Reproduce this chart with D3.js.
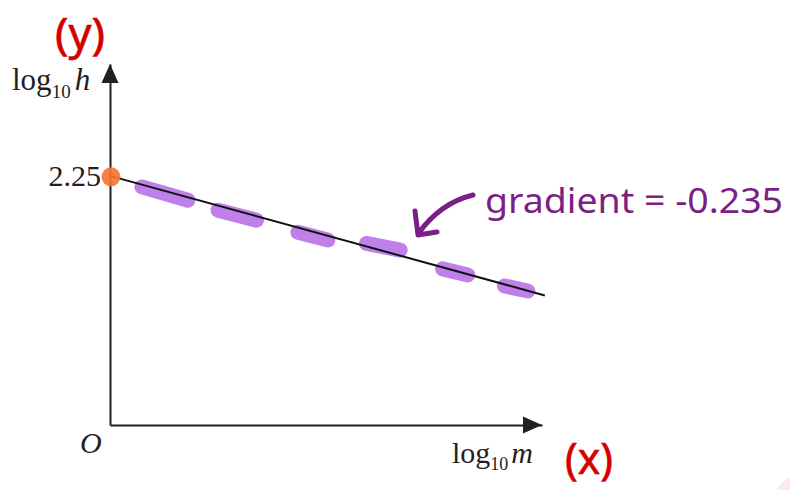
<!DOCTYPE html>
<html>
<head>
<meta charset="utf-8">
<script src="https://cdn.jsdelivr.net/npm/d3@7"></script>
<style>
  body { margin: 0; background: #fff; }
  .serif { font-family: "Liberation Serif", "DejaVu Serif", serif; fill: #231f20; }
  .hand { font-family: "Noto Sans", "Open Sans", sans-serif; }
</style>
</head>
<body>
<div id="chart"></div>
<script>
// values
var yTicks = [2.25];
var fitLine = [[0, 2.25], [4.63, 1.17]];
var gradientLabel = 'gradient = -0.235';
// purple highlighter dashes, each [x0, y0, x1, y1]
var dashes = [
    [0.34, 2.15, 0.83, 2.03],
    [1.15, 1.94, 1.56, 1.85],
    [2.00, 1.74, 2.32, 1.67],
    [2.73, 1.64, 3.09, 1.58],
    [3.54, 1.41, 3.81, 1.355],
    [4.20, 1.255, 4.45, 1.21]
];

var width = 790, height = 490;
var svg = d3.select('#chart').append('svg')
    .attr('width', width)
    .attr('height', height);

var x = d3.scaleLinear().domain([0, 4.6]).range([110, 542]);
var y = d3.scaleLinear().domain([0, 3.26]).range([425, 64]);

// faint pink smudge in the corner
svg.append('circle')
    .attr('cx', 815).attr('cy', 515).attr('r', 46)
    .attr('fill', '#fde8f1');

// axes
var yAxis = svg.append('g')
    .attr('transform', 'translate(' + x(0) + ',0)')
    .call(d3.axisLeft(y).tickValues(yTicks).tickSize(0).tickSizeOuter(0).tickPadding(9)
        .tickFormat(d3.format('.2f')));
var xAxis = svg.append('g')
    .attr('transform', 'translate(0,' + y(0) + ')')
    .call(d3.axisBottom(x).tickValues([]).tickSizeOuter(0));

svg.selectAll('.domain').attr('stroke', '#231f20').attr('stroke-width', 2);
yAxis.selectAll('text')
    .attr('class', 'serif')
    .style('font-size', '30px')
    .attr('fill', '#231f20');

// arrow heads
var ax = x.range()[1], ay = y.range()[1];
svg.append('path')
    .attr('d', 'M' + ax + ',' + y(0) + 'L' + (ax - 19) + ',' + (y(0) - 8.5) + 'L' + (ax - 19) + ',' + (y(0) + 8.5) + 'Z')
    .attr('fill', '#231f20');
svg.append('path')
    .attr('d', 'M' + x(0) + ',' + ay + 'L' + (x(0) - 8.5) + ',' + (ay + 19) + 'L' + (x(0) + 8.5) + ',' + (ay + 19) + 'Z')
    .attr('fill', '#231f20');

// highlighter dashes
svg.selectAll('.dash')
    .data(dashes)
    .enter().append('line')
    .attr('class', 'dash')
    .attr('x1', function (d) { return x(d[0]); })
    .attr('y1', function (d) { return y(d[1]); })
    .attr('x2', function (d) { return x(d[2]); })
    .attr('y2', function (d) { return y(d[3]); })
    .attr('stroke', '#bf80ea')
    .attr('stroke-width', 15)
    .attr('stroke-linecap', 'round');

// fitted line
svg.append('path')
    .datum(fitLine)
    .attr('d', d3.line().x(function (d) { return x(d[0]); }).y(function (d) { return y(d[1]); }))
    .attr('fill', 'none')
    .attr('stroke', '#111')
    .attr('stroke-width', 2);

// intercept point
svg.append('circle')
    .attr('cx', x(0) + 1).attr('cy', y(yTicks[0]) + 1).attr('r', 9.5)
    .attr('fill', '#f8742f')
    .attr('opacity', 0.92);

// axis labels
var yl = svg.append('text').attr('class', 'serif').attr('x', 12).attr('y', 90).style('font-size', '31px');
yl.append('tspan').text('log');
yl.append('tspan').text('10').style('font-size', '19px').attr('dy', 8);
yl.append('tspan').text('h').style('font-style', 'italic').attr('dy', -8).attr('dx', 4);

var xl = svg.append('text').attr('class', 'serif').attr('x', 452).attr('y', 463).style('font-size', '30px');
xl.append('tspan').text('log');
xl.append('tspan').text('10').style('font-size', '18px').attr('dy', 7);
xl.append('tspan').text('m').style('font-style', 'italic').attr('dy', -7).attr('dx', 3);

svg.append('text').attr('class', 'serif')
    .attr('x', 80).attr('y', 453)
    .style('font-size', '30px').style('font-style', 'italic')
    .text('O');

// handwritten notes
svg.append('text').attr('class', 'hand')
    .attr('x', 55).attr('y', 49)
    .attr('fill', '#d40000').attr('stroke', '#d40000').attr('stroke-width', 0.6)
    .attr('textLength', 50).attr('lengthAdjust', 'spacingAndGlyphs')
    .style('font-size', '44px')
    .text('(y)');
svg.append('text').attr('class', 'hand')
    .attr('x', 565).attr('y', 474)
    .attr('fill', '#d40000').attr('stroke', '#d40000').attr('stroke-width', 0.6)
    .attr('textLength', 48).attr('lengthAdjust', 'spacingAndGlyphs')
    .style('font-size', '44px')
    .text('(x)');
svg.append('text').attr('class', 'hand')
    .attr('x', 485).attr('y', 213)
    .attr('fill', '#7b1e87')
    .attr('textLength', 298).attr('lengthAdjust', 'spacingAndGlyphs')
    .style('font-size', '35px')
    .text(gradientLabel);

svg.append('path')
    .attr('d', 'M473,195 Q440,203 418,234 M415,211 L418,235 L437,232')
    .attr('fill', 'none')
    .attr('stroke', '#7b1e87')
    .attr('stroke-width', 5)
    .attr('stroke-linecap', 'round')
    .attr('stroke-linejoin', 'round');
</script>
</body>
</html>
